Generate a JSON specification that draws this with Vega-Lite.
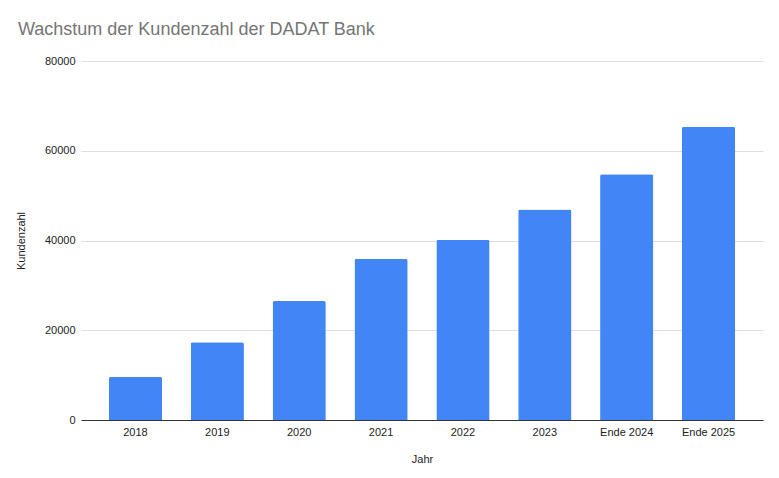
{
  "$schema": "https://vega.github.io/schema/vega-lite/v6.json",
  "autosize": "none",
  "width": 682,
  "height": 359,
  "padding": {"left": 81, "top": 61, "right": 16, "bottom": 58},
  "background": "white",
  "title": {
    "text": "Wachstum der Kundenzahl der DADAT Bank",
    "anchor": "start",
    "frame": "group",
    "dx": -63,
    "offset": 16,
    "font": "Liberation Sans",
    "fontSize": 18,
    "fontWeight": "normal",
    "color": "#757575"
  },
  "config": {
    "view": {"stroke": null},
    "axis": {
      "labelFont": "Liberation Sans",
      "titleFont": "Liberation Sans",
      "labelFontSize": 11,
      "titleFontSize": 11,
      "labelColor": "#222222",
      "titleColor": "#222222",
      "titleFontWeight": "normal"
    }
  },
  "data": {
    "values": [
      {"Jahr": "2018", "Kundenzahl": 9600},
      {"Jahr": "2019", "Kundenzahl": 17300},
      {"Jahr": "2020", "Kundenzahl": 26500},
      {"Jahr": "2021", "Kundenzahl": 35900},
      {"Jahr": "2022", "Kundenzahl": 40150},
      {"Jahr": "2023", "Kundenzahl": 46900},
      {"Jahr": "Ende 2024", "Kundenzahl": 54750},
      {"Jahr": "Ende 2025", "Kundenzahl": 65350}
    ]
  },
  "mark": {"type": "bar", "color": "#4285F4", "cornerRadiusTopLeft": 2, "cornerRadiusTopRight": 2},
  "encoding": {
    "x": {
      "field": "Jahr",
      "type": "nominal",
      "sort": null,
      "scale": {"paddingInner": 0.35, "paddingOuter": 0.34},
      "axis": {
        "title": "Jahr",
        "labelAngle": 0,
        "domainColor": "#333333",
        "ticks": false,
        "labelPadding": 6,
        "titlePadding": 16
      }
    },
    "y": {
      "field": "Kundenzahl",
      "type": "quantitative",
      "scale": {"domain": [0, 80000], "nice": false},
      "axis": {
        "title": "Kundenzahl",
        "values": [0, 20000, 40000, 60000, 80000],
        "format": "d",
        "domain": false,
        "ticks": false,
        "labelPadding": 6,
        "gridColor": "#dddddd",
        "titlePadding": 18
      }
    }
  }
}
